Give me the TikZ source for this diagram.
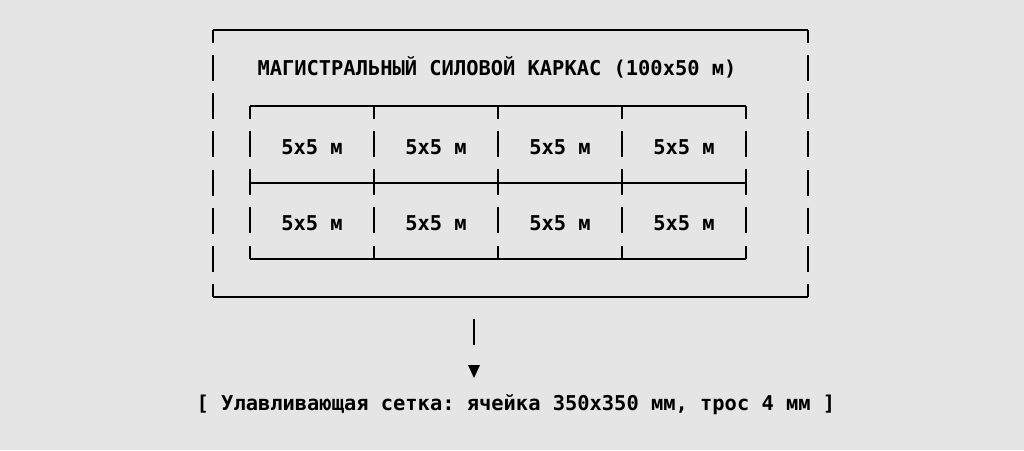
\documentclass[tikz,border=0pt]{standalone}
\usepackage{fontspec}
\setmonofont{DejaVu Sans Mono}
\usepackage{xcolor}
\usepackage{tikz}
\usetikzlibrary{calc, positioning}
\definecolor{bgcol}{RGB}{229,229,229}
\tikzset{
    gridline/.style = {draw, line width=1.5pt},
    brokenline/.style = {draw, line width=1.5pt, dash pattern=on 19.5pt off 9.1pt, dash phase=9.75pt},
    textnode/.style = {draw=none, fill=none, rectangle, inner sep = 0em, anchor=base,
      font=\fontsize{15.3}{18}\selectfont\ttfamily\bfseries},
    celltextnode/.style = {textnode},
    every text node part/.style={align=center}
}

\begin{document}
\begin{tikzpicture}[x=0.75pt, y=-0.75pt]
    \fill [bgcol] (0,0) rectangle (1024,450);

    % outer frame
    \draw [gridline] (213,30) -- (808,30);
    \draw [gridline] (213,297) -- (808,297);
    \draw [brokenline] (213,30) -- (213,297);
    \draw [brokenline] (808,30) -- (808,297);

    \node [name=title, textnode] at (497,75) {МАГИСТРАЛЬНЫЙ СИЛОВОЙ КАРКАС (100x50 м)};

    % inner grid
    \foreach \y in {106,183,259}
        \draw [gridline] (250,\y) -- (746,\y);
    \foreach \x in {250,374,498,622,746}
        \draw [brokenline] (\x,106) -- (\x,259);

    \foreach \x [count=\c] in {312,436,560,684} {
        \node [name=cell-1-\c, celltextnode] at (\x,154) {5x5 м};
        \node [name=cell-2-\c, celltextnode] at (\x,230) {5x5 м};
    }

    % net
    \node [name=net, textnode] at (516,410) {[ Улавливающая сетка: ячейка 350x350 мм, трос 4 мм ]};

    \coordinate (arrowtop) at (474,319);
    \coordinate (arrowbot) at (474,345);
    \draw [line width=1.5pt] (arrowtop) -- (arrowbot);
    \fill (468,365) -- (480,365) -- (474,378) -- cycle;
\end{tikzpicture}
\end{document}
